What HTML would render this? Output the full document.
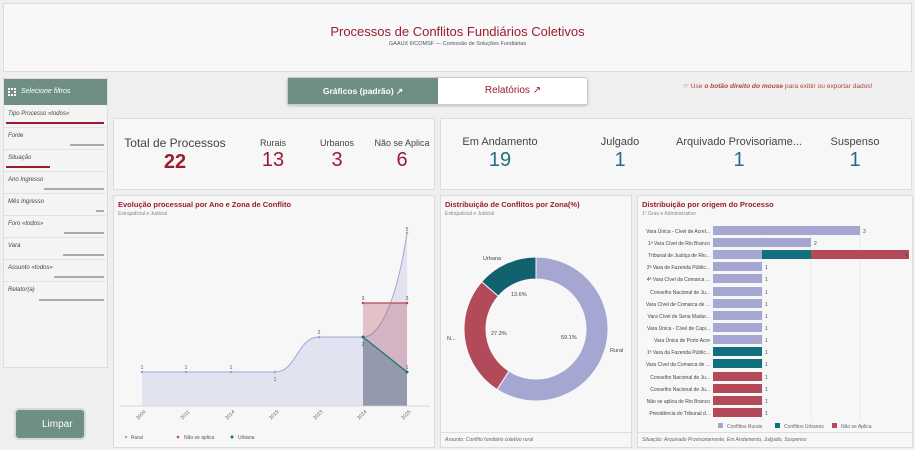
<!DOCTYPE html>
<html><head><meta charset="utf-8"><style>
*{box-sizing:border-box;margin:0;padding:0}
body{width:915px;height:450px;background:#efefef;font-family:"Liberation Sans",sans-serif;position:relative;overflow:hidden;color:#333}
.p{position:absolute;background:#f7f7f7;border:1px solid #dcdcdc}
.a{position:absolute;white-space:nowrap}
.f{position:absolute;left:4px;width:102px;height:22px;border-bottom:1px solid #e2e2e2;font-size:6px;font-style:italic;color:#444;padding:5px 0 0 4px}
.f i{position:absolute;right:2px;bottom:3px;height:2px;background:#aaa}
.kl{font-size:11px;color:#444;position:absolute;text-align:center}
.kv{font-size:20px;position:absolute;text-align:center}
.t{font-size:7.5px;font-weight:bold;color:#9b1b30}
.s{font-size:5px;color:#888}
</style></head><body>
<div class="p" style="left:3px;top:3px;width:909px;height:69px;background:#f8f8f8"></div>
<div class="a" style="left:0;width:915px;top:24px;text-align:center;font-size:13px;color:#9b1b30">Processos de Conflitos Fundiários Coletivos</div>
<div class="a" style="left:0;width:915px;top:41px;text-align:center;font-size:5.5px;color:#555">GAAUX II/COMSF — Comissão de Soluções Fundiárias</div>

<div class="p" style="left:3px;top:78px;width:105px;height:290px;background:#f4f4f4"></div>
<div class="a" style="left:4px;top:79px;width:103px;height:26px;background:#6f8e84;color:#fff;font-size:7px;font-style:italic;padding:9px 0 0 17px">Selecione filtros</div>
<div class="a" style="left:8px;top:88px;width:8px;height:8px;border:2px dotted #fff"></div>
<div class="f" style="top:106px">Tipo Processo «todos»<i style="left:2px;right:2px;background:#9b1b30"></i></div>
<div class="f" style="top:128px">Fonte<i style="width:34px"></i></div>
<div class="f" style="top:150px">Situação<i style="left:2px;width:44px;background:#9b1b30;right:auto"></i></div>
<div class="f" style="top:172px">Ano Ingresso<i style="width:60px"></i></div>
<div class="f" style="top:194px">Mês Ingresso<i style="width:8px"></i></div>
<div class="f" style="top:216px">Foro «todos»<i style="width:40px"></i></div>
<div class="f" style="top:238px">Vara<i style="width:41px"></i></div>
<div class="f" style="top:260px">Assunto «todos»<i style="width:50px"></i></div>
<div class="f" style="top:282px;border:none">Relator(a)<i style="width:65px"></i></div>
<div class="a" style="left:14px;top:408px;width:72px;height:32px;background:#6f8e84;border-radius:5px;border:2px solid #d8d8d8;color:#fff;font-size:10px;padding:9px 0 0 26px">Limpar</div>

<div class="a" style="left:287px;top:77px;width:301px;height:28px;border:1px solid #ccc;border-radius:3px;background:#fff;box-shadow:0 1px 2px #bbb"></div>
<div class="a" style="left:288px;top:78px;width:150px;height:26px;background:#6f8e84;color:#fff;font-size:8.5px;font-weight:bold;text-align:center;padding-top:8px">Gráficos (padrão) ↗</div>
<div class="a" style="left:438px;top:78px;width:150px;height:26px;color:#9b1b30;font-size:10px;text-align:center;padding-top:7px">Relatórios ↗</div>
<div class="a" style="left:683px;top:82px;font-size:6.6px;color:#b5433a">☞ Use <i><b>o botão direito do mouse</b></i> para exibir ou exportar dados!</div>

<div class="p" style="left:113px;top:118px;width:322px;height:72px"></div>
<div class="kl" style="left:120px;width:110px;top:136px;font-size:12px">Total de Processos</div>
<div class="kv" style="left:120px;width:110px;top:151px;color:#9b1b30;font-weight:bold">22</div>
<div class="kl" style="left:250px;width:46px;top:138px;font-size:9px">Rurais</div>
<div class="kv" style="left:250px;width:46px;top:149px;color:#9b1b30">13</div>
<div class="kl" style="left:314px;width:46px;top:138px;font-size:9px">Urbanos</div>
<div class="kv" style="left:314px;width:46px;top:149px;color:#9b1b30">3</div>
<div class="kl" style="left:372px;width:60px;top:138px;font-size:9px">Não se Aplica</div>
<div class="kv" style="left:372px;width:60px;top:149px;color:#9b1b30">6</div>

<div class="p" style="left:440px;top:118px;width:472px;height:72px"></div>
<div class="kl" style="left:450px;width:100px;top:136px">Em Andamento</div>
<div class="kv" style="left:450px;width:100px;top:149px;color:#20707e">19</div>
<div class="kl" style="left:590px;width:60px;top:136px">Julgado</div>
<div class="kv" style="left:590px;width:60px;top:149px;color:#20707e">1</div>
<div class="kl" style="left:672px;width:134px;top:136px">Arquivado Provisoriame...</div>
<div class="kv" style="left:672px;width:134px;top:149px;color:#20707e">1</div>
<div class="kl" style="left:820px;width:70px;top:136px">Suspenso</div>
<div class="kv" style="left:820px;width:70px;top:149px;color:#20707e">1</div>

<div class="p" style="left:113px;top:195px;width:322px;height:253px"></div>
<div class="a t" style="left:118px;top:200px">Evolução processual por Ano e Zona de Conflito</div>
<div class="a s" style="left:118px;top:211px">Extrajudicial e Judicial</div>
<div class="p" style="left:440px;top:195px;width:192px;height:253px"></div>
<div class="a t" style="left:445px;top:200px">Distribuição de Conflitos por Zona(%)</div>
<div class="a s" style="left:445px;top:211px">Extrajudicial e Judicial</div>
<div class="a" style="left:440px;top:432px;width:192px;border-top:1px solid #ddd;font-size:5px;font-style:italic;color:#666;padding:4px 0 0 5px">Assunto: Conflito fundiário coletivo rural</div>
<div class="p" style="left:637px;top:195px;width:276px;height:253px"></div>
<div class="a t" style="left:642px;top:200px">Distribuição por origem do Processo</div>
<div class="a s" style="left:642px;top:211px">1º Grau e Administrativo</div>
<div class="a" style="left:637px;top:432px;width:276px;border-top:1px solid #ddd;font-size:5px;font-style:italic;color:#666;padding:4px 0 0 5px">Situação: Arquivado Provisoriamente, Em Andamento, Julgado, Suspenso</div>

<svg class="a" style="left:0;top:0" width="915" height="450" font-family="Liberation Sans,sans-serif">
<g>
<path d="M142,372 L275,372 C297,372 297,337 319,337 L363,337 C385,337 400,280 407,233 L407,406 L142,406Z" fill="#e2e3f1"/>
<path d="M142,372 L275,372 C297,372 297,337 319,337 L363,337 C385,337 400,280 407,233" fill="none" stroke="#a5a6d2" stroke-width="1"/>
<rect x="363" y="303" width="44" height="103" fill="#b34a5a" opacity=".3"/>
<line x1="363" y1="303" x2="407" y2="303" stroke="#b34a5a" stroke-width="1.2"/>
<path d="M363,337 L407,372 L407,406 L363,406Z" fill="#8895a8" opacity=".85"/>
<line x1="363" y1="337" x2="407" y2="372" stroke="#1d6f7d" stroke-width="1.2"/>
<line x1="120" y1="406" x2="430" y2="406" stroke="#ccc" stroke-width=".8"/>
<g fill="#a5a6d2"><circle cx="142" cy="372" r="1.3"/><circle cx="186" cy="372" r="1.3"/><circle cx="231" cy="372" r="1.3"/><circle cx="275" cy="372" r="1.3"/><circle cx="319" cy="337" r="1.3"/><circle cx="407" cy="233" r="1.3"/></g>
<circle cx="363" cy="303" r="1.3" fill="#b34a5a"/><circle cx="407" cy="303" r="1.3" fill="#b34a5a"/>
<circle cx="363" cy="337" r="1.5" fill="#1d6f7d"/><circle cx="407" cy="372" r="1.5" fill="#1d6f7d"/>
<g font-size="5" fill="#555" text-anchor="middle"><text x="142" y="369">1</text><text x="186" y="369">1</text><text x="231" y="369">1</text><text x="275" y="381">1</text><text x="319" y="334">2</text><text x="407" y="231">5</text><text x="363" y="300">3</text><text x="407" y="300">3</text><text x="363" y="346">2</text><text x="407" y="369">1</text></g>
<g font-size="5" fill="#666" text-anchor="middle">
<text transform="translate(142,416) rotate(-45)">2000</text><text transform="translate(186,416) rotate(-45)">2011</text><text transform="translate(231,416) rotate(-45)">2014</text><text transform="translate(275,416) rotate(-45)">2015</text><text transform="translate(319,416) rotate(-45)">2023</text><text transform="translate(363,416) rotate(-45)">2024</text><text transform="translate(407,416) rotate(-45)">2025</text></g>
<g font-size="5" fill="#555"><circle cx="126" cy="437" r="1.3" fill="#a5a6d2"/><text x="131" y="439">Rural</text><circle cx="178" cy="437" r="1.3" fill="#b34a5a"/><text x="184" y="439">Não se aplica</text><circle cx="232" cy="437" r="1.5" fill="#1d6f7d"/><text x="238" y="439">Urbana</text></g>
</g>
<g stroke="#f7f7f7" stroke-width="1">
<path d="M536,257 A72,72 0 1 1 497.05,389.55 L508.95,371.05 A50,50 0 1 0 536,279Z" fill="#a5a6d2"/>
<path d="M497.05,389.55 A72,72 0 0 1 481.7,281.7 L498.3,296.15 A50,50 0 0 0 508.95,371.05Z" fill="#b34a5a"/>
<path d="M481.7,281.7 A72,72 0 0 1 536,257 L536,279 A50,50 0 0 0 498.3,296.15Z" fill="#11616e"/>
</g>
<g font-size="5.5" fill="#444"><text x="483" y="260">Urbana</text><text x="447" y="340">N...</text><text x="610" y="352">Rural</text><text x="511" y="296">13.6%</text><text x="491" y="335">27.3%</text><text x="561" y="339">59.1%</text></g>
<g font-size="5" fill="#444">
<line x1="762" y1="224" x2="762" y2="420" stroke="#e2e2e2" stroke-width=".6"/><line x1="811" y1="224" x2="811" y2="420" stroke="#e2e2e2" stroke-width=".6"/><line x1="860" y1="224" x2="860" y2="420" stroke="#e2e2e2" stroke-width=".6"/>
<rect x="713" y="226" width="147" height="9" fill="#a5a6d2"/><text x="863" y="233">3</text>
<rect x="713" y="238" width="98" height="9" fill="#a5a6d2"/><text x="814" y="245">2</text>
<rect x="713" y="250" width="49" height="9" fill="#a5a6d2"/><rect x="762" y="250" width="49" height="9" fill="#11707e"/><rect x="811" y="250" width="98" height="9" fill="#b34a5a"/><text x="905" y="257">4</text>
<rect x="713" y="262" width="49" height="9" fill="#a5a6d2"/><rect x="713" y="274" width="49" height="9" fill="#a5a6d2"/><rect x="713" y="287" width="49" height="9" fill="#a5a6d2"/><rect x="713" y="299" width="49" height="9" fill="#a5a6d2"/><rect x="713" y="311" width="49" height="9" fill="#a5a6d2"/><rect x="713" y="323" width="49" height="9" fill="#a5a6d2"/><rect x="713" y="335" width="49" height="9" fill="#a5a6d2"/>
<rect x="713" y="347" width="49" height="9" fill="#11707e"/><rect x="713" y="359" width="49" height="9" fill="#11707e"/>
<rect x="713" y="372" width="49" height="9" fill="#b34a5a"/><rect x="713" y="384" width="49" height="9" fill="#b34a5a"/><rect x="713" y="396" width="49" height="9" fill="#b34a5a"/><rect x="713" y="408" width="49" height="9" fill="#b34a5a"/>
<g><text x="765" y="269">1</text><text x="765" y="281">1</text><text x="765" y="294">1</text><text x="765" y="306">1</text><text x="765" y="318">1</text><text x="765" y="330">1</text><text x="765" y="342">1</text><text x="765" y="354">1</text><text x="765" y="366">1</text><text x="765" y="379">1</text><text x="765" y="391">1</text><text x="765" y="403">1</text><text x="765" y="415">1</text></g>
<g text-anchor="end">
<text x="710" y="233">Vara Única - Cível de Acrel...</text><text x="710" y="245">1ª Vara Cível de Rio Branco</text><text x="710" y="257">Tribunal de Justiça de Rio...</text><text x="710" y="269">2ª Vara de Fazenda Públic...</text><text x="710" y="281">4ª Vara Cível da Comarca ...</text><text x="710" y="294">Conselho Nacional de Ju...</text><text x="710" y="306">Vara Cível de Comarca de ...</text><text x="710" y="318">Vara Cível de Sena Madur...</text><text x="710" y="330">Vara Única - Cível de Capi...</text><text x="710" y="342">Vara Única de Porto Acre</text><text x="710" y="354">1ª Vara da Fazenda Públic...</text><text x="710" y="366">Vara Cível da Comarca de ...</text><text x="710" y="379">Conselho Nacional de Ju...</text><text x="710" y="391">Conselho Nacional de Ju...</text><text x="710" y="403">Não se aplica de Rio Branco</text><text x="710" y="415">Presidência do Tribunal d...</text></g>
<rect x="718" y="423" width="5" height="5" fill="#a5a6d2"/><text x="727" y="428" fill="#666">Conflitos Rurais</text>
<rect x="775" y="423" width="5" height="5" fill="#11707e"/><text x="784" y="428" fill="#666">Conflitos Urbanos</text>
<rect x="832" y="423" width="5" height="5" fill="#b34a5a"/><text x="841" y="428" fill="#666">Não se Aplica</text>
</g>
</svg>
</body></html>
